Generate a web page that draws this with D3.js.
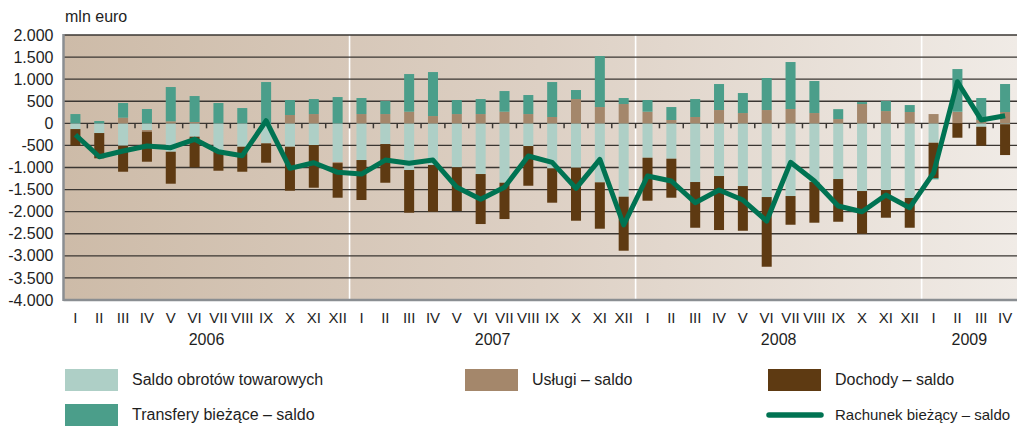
<!DOCTYPE html>
<html>
<head>
<meta charset="utf-8">
<script src="https://cdn.jsdelivr.net/npm/d3@7"></script>
<style>
body { margin: 0; background: #fff; }
text { font-family: "Liberation Sans", Arial, sans-serif; fill: #1e1e1e; }
</style>
</head>
<body>
<div id="chart"></div>
<script>
// month labels and years
var monthNames = ['I','II','III','IV','V','VI','VII','VIII','IX','X','XI','XII'];
var years = ['2006', '2007', '2008', '2009'];
var monthsPerYear = [12, 12, 12, 4];
var yTicks = [2000, 1500, 1000, 500, 0, -500, -1000, -1500, -2000, -2500, -3000, -3500, -4000];

// series, mln euro (2006 I .. 2009 IV)
var saldoTowarowe = [-130, -220, -507, -152, -643, -303, -643, -530, -453, -530, -491, -880,
	-831, -469, -1057, -944, -996, -1148, -1345, -514, -1019, -1005, -1336, -1662,
	-779, -801, -1329, -1193, -1420, -1669, -1646, -1329, -1261, -1533, -1510, -1691,
	-439, 0, -77, -20];
var uslugi = [0, 0, 127, -37, 45, 30, 0, 0, 0, 188, 210, -20,
	210, 210, 263, 165, 210, 210, 263, 210, 143, 550, 369, 437,
	263, 75, 143, 301, 233, 301, 324, 233, 97, 437, 278, 256,
	210, 263, 75, 256];
var dochody = [-377, -572, -589, -680, -724, -693, -430, -566, -439, -996, -967, -784,
	-905, -876, -967, -1057, -990, -1132, -822, -899, -778, -1200, -1050, -1222,
	-973, -883, -1035, -1223, -1012, -1578, -650, -921, -967, -967, -627, -673,
	-799, -326, -430, -698];
var transfery = [210, 52, 333, 324, 777, 588, 460, 346, 935, 339, 340, 595,
	363, 295, 853, 996, 317, 340, 468, 431, 792, 204, 1155, 136,
	264, 294, 407, 589, 453, 725, 1064, 725, 224, 45, 227, 158,
	-30, 966, 498, 634];
var rachunek = [-258, -756, -627, -514, -552, -362, -643, -733, 59, -1019, -892, -1110,
	-1148, -831, -906, -831, -1449, -1721, -1449, -740, -883, -1472, -815, -2302,
	-1193, -1306, -1797, -1510, -1736, -2212, -883, -1306, -1872, -2001, -1623, -1910,
	-1120, 942, 75, 173];

var keys = ['saldo', 'uslugi', 'dochody', 'transfery'];
var colors = {saldo: '#aecfc6', uslugi: '#a4876b', dochody: '#5e3a12', transfery: '#4b9e8a'};
var lineColor = '#007352';

// build rows
var labels = [];
years.forEach(function(yr, yi) {
	for (var m = 0; m < monthsPerYear[yi]; m++) labels.push(monthNames[m]);
});
var rows = labels.map(function(l, i) {
	return {i: i, saldo: saldoTowarowe[i], uslugi: uslugi[i], dochody: dochody[i], transfery: transfery[i], rachunek: rachunek[i]};
});

var W = 1018, H = 426;
var plot = {left: 63.5, right: 1017, top: 35, bottom: 300};

var svg = d3.select('#chart').append('svg')
	.attr('width', W)
	.attr('height', H);

var x = d3.scaleBand()
	.domain(d3.range(rows.length))
	.range([plot.left, plot.right])
	.paddingInner(0.58)
	.paddingOuter(0.29);
var step = x.step();
var y = d3.scaleLinear().domain([-4000, 2000]).range([plot.bottom, plot.top]);

// background gradient
var grad = svg.append('defs').append('linearGradient')
	.attr('id', 'bg')
	.attr('x1', '0%').attr('x2', '100%').attr('y1', '0%').attr('y2', '0%');
grad.append('stop').attr('offset', '0%').attr('stop-color', '#cdbba8');
grad.append('stop').attr('offset', '50%').attr('stop-color', '#ddd0c4');
grad.append('stop').attr('offset', '100%').attr('stop-color', '#f0ebe6');

svg.append('rect')
	.attr('x', plot.left).attr('y', plot.top)
	.attr('width', plot.right - plot.left).attr('height', plot.bottom - plot.top)
	.attr('fill', 'url(#bg)');

// year separators
var cum = 0;
monthsPerYear.slice(0, -1).forEach(function(n) {
	cum += n;
	svg.append('line')
		.attr('x1', plot.left + cum * step).attr('x2', plot.left + cum * step)
		.attr('y1', plot.top).attr('y2', plot.bottom)
		.attr('stroke', '#ffffff')
		.attr('stroke-width', 1.6);
});

// grid
svg.append('g')
	.selectAll('line')
	.data(yTicks.filter(function(d){ return d > -4000; }))
	.enter()
	.append('line')
	.attr('x1', plot.left).attr('x2', plot.right)
	.attr('y1', function(d){ return y(d); })
	.attr('y2', function(d){ return y(d); })
	.attr('stroke', '#3a3632')
	.attr('stroke-width', 1.4);

// y labels
var yAxis = svg.append('g')
	.attr('transform', 'translate(' + plot.left + ',0)')
	.call(d3.axisLeft(y).tickValues(yTicks).tickSize(0).tickPadding(10)
		.tickFormat(function(d){ return d3.format(',')(d).replace(/,/g, '.').replace('\u2212', '-'); }));
yAxis.select('.domain').remove();
yAxis.selectAll('text')
	.style('font-size', '16px')
	.style('font-family', '"Liberation Sans", Arial, sans-serif')
	.attr('fill', '#1e1e1e');

// small ticks on zero line
svg.append('g')
	.selectAll('line')
	.data(d3.range(1, rows.length))
	.enter()
	.append('line')
	.attr('x1', function(k){ return plot.left + k * step; })
	.attr('x2', function(k){ return plot.left + k * step; })
	.attr('y1', y(0)).attr('y2', y(0) + 5)
	.attr('stroke', '#3a3632')
	.attr('stroke-width', 1.5);

// stacked bars
var stack = d3.stack().keys(keys).offset(d3.stackOffsetDiverging);
var series = stack(rows);

svg.append('g')
	.selectAll('g')
	.data(series)
	.enter()
	.append('g')
	.attr('fill', function(s){ return colors[s.key]; })
	.selectAll('rect')
	.data(function(s){ return s; })
	.enter()
	.append('rect')
	.attr('x', function(d){ return x(d.data.i); })
	.attr('y', function(d){ return y(Math.max(d[0], d[1])); })
	.attr('width', x.bandwidth())
	.attr('height', function(d){ return Math.abs(y(d[0]) - y(d[1])); });

// axes lines
svg.append('line')
	.attr('x1', plot.left).attr('x2', plot.left)
	.attr('y1', plot.top - 1).attr('y2', plot.bottom + 1)
	.attr('stroke', '#8a8e92').attr('stroke-width', 2.5);
svg.append('line')
	.attr('x1', plot.left).attr('x2', plot.right)
	.attr('y1', plot.bottom).attr('y2', plot.bottom)
	.attr('stroke', '#8a8e92').attr('stroke-width', 2.5);

// current account line
var line = d3.line()
	.x(function(d){ return x(d.i) + x.bandwidth() / 2; })
	.y(function(d){ return y(d.rachunek); });
svg.append('path')
	.datum(rows)
	.attr('d', line)
	.attr('fill', 'none')
	.attr('stroke', lineColor)
	.attr('stroke-width', 5)
	.attr('stroke-linejoin', 'round');

// month labels
var xAxis = svg.append('g')
	.attr('transform', 'translate(0,' + plot.bottom + ')')
	.call(d3.axisBottom(x).tickSize(0).tickPadding(12).tickFormat(function(i){ return labels[i]; }));
xAxis.select('.domain').remove();
xAxis.selectAll('text')
	.style('font-size', '15px')
	.style('font-family', '"Liberation Sans", Arial, sans-serif')
	.attr('fill', '#1e1e1e');

// year labels
cum = 0;
years.forEach(function(yr, yi) {
	var n = monthsPerYear[yi];
	svg.append('text')
		.attr('x', plot.left + (cum + n / 2) * step)
		.attr('y', 345)
		.attr('text-anchor', 'middle')
		.style('font-size', '16px')
		.text(yr);
	cum += n;
});

// unit
svg.append('text')
	.attr('x', 65).attr('y', 22)
	.style('font-size', '16px')
	.text('mln euro');

// legend
var legend = [
	{label: 'Saldo obrotów towarowych', key: 'saldo', x: 65, y: 369},
	{label: 'Usługi – saldo', key: 'uslugi', x: 465, y: 369},
	{label: 'Dochody – saldo', key: 'dochody', x: 768, y: 369},
	{label: 'Transfery bieżące – saldo', key: 'transfery', x: 65, y: 404}
];
legend.forEach(function(l) {
	svg.append('rect')
		.attr('x', l.x).attr('y', l.y)
		.attr('width', 53).attr('height', 22)
		.attr('fill', colors[l.key]);
	svg.append('text')
		.attr('x', l.x + 67).attr('y', l.y + 16)
		.style('font-size', '16px')
		.text(l.label);
});
svg.append('line')
	.attr('x1', 769).attr('x2', 821)
	.attr('y1', 415).attr('y2', 415)
	.attr('stroke', lineColor)
	.attr('stroke-width', 5.5)
	.attr('stroke-linecap', 'round');
svg.append('text')
	.attr('x', 835).attr('y', 420)
	.style('font-size', '15px')
	.text('Rachunek bieżący – saldo');
</script>
</body>
</html>
